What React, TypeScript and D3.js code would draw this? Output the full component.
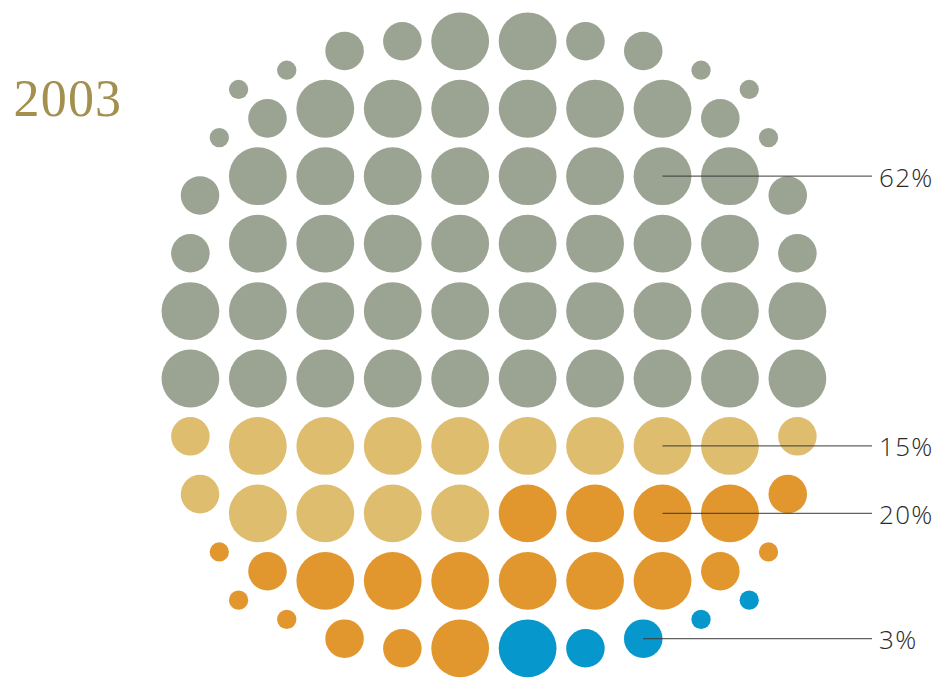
import React from "react";
import * as d3 from "d3";

// ---- data ----
const title = "2003";
const categories = ["Gray", "Yellow", "Orange", "Blue"];
const dotCounts = [60, 15, 20, 5];
const colors = ["#9ba392", "#dfbd6f", "#e1972e", "#0697cd"];
const labels = ["62%", "15%", "20%", "3%"];
// anchor dot (row, col) each label's leader line starts from
const labelAnchorRow = [2, 6, 7, 9];
const labelAnchorCol = [7, 7, 7, 7];

// dot pattern (top-left quadrant, mirrored): L = large, M = medium, S = small
const quadrantKind = ["SSMML", "SMLLL", "MLLLL", "MLLLL", "LLLLL"];
// shift toward the centre, in pattern units (cell = 7 units)
const quadrantShiftX = [
  [5, 3, 2, 1, 0],
  [3, 1, 0, 0, 0],
  [1, 0, 0, 0, 0],
  [0, 0, 0, 0, 0],
  [0, 0, 0, 0, 0],
];
const quadrantShiftY = [
  [5, 3, 1, 0, 0],
  [3, 1, 0, 0, 0],
  [2, 0, 0, 0, 0],
  [1, 0, 0, 0, 0],
  [0, 0, 0, 0, 0],
];
const kindRadius: Record<string, number> = { L: 3, M: 2, S: 1 };

const W = 945;
const H = 685;
const N = 10;

export default function App() {
  const x = d3.scaleLinear().domain([0, N - 1]).range([190.4, 797.4]);
  const y = d3.scaleLinear().domain([0, N - 1]).range([41.3, 648.3]);
  const unit = (x(1) - x(0)) / 7;

  const colorIdx: number[] = [];
  dotCounts.forEach((c, i) => {
    for (let k = 0; k < c; k++) colorIdx.push(i);
  });

  const dots: { r: number; c: number; cx: number; cy: number; rad: number; fill: string }[] = [];
  for (let r = 0; r < N; r++) {
    for (let c = 0; c < N; c++) {
      const qr = r < N / 2 ? r : N - 1 - r;
      const qc = c < N / 2 ? c : N - 1 - c;
      const sx = c < N / 2 ? 1 : -1;
      const sy = r < N / 2 ? 1 : -1;
      const kind = quadrantKind[qr][qc];
      const cx = x(c) + sx * quadrantShiftX[qr][qc] * unit;
      const cy = y(r) + sy * quadrantShiftY[qr][qc] * unit;
      const idx = r * N + c;
      dots.push({ r, c, cx, cy, rad: kindRadius[kind] * unit, fill: colors[colorIdx[idx]] });
    }
  }

  const lineEnd = 872;

  return (
    <div style={{ position: "absolute", left: 0, top: 0 }}>
      <svg width={W} height={H} viewBox={`0 0 ${W} ${H}`} style={{ display: "block", background: "#fff" }}>
        <text
          x={13.5}
          y={115.5}
          fontFamily="'Liberation Serif', 'DejaVu Serif', serif"
          fontSize={52}
          letterSpacing={1.2}
          fill="#a38f4e"
        >
          {title}
        </text>
        <g>
          {dots.map((d) => (
            <circle key={`${d.r}-${d.c}`} cx={d.cx} cy={d.cy} r={d.rad} fill={d.fill} />
          ))}
        </g>
        <g>
          {labels.map((lab, i) => {
            const a = dots.find((d) => d.r === labelAnchorRow[i] && d.c === labelAnchorCol[i])!;
            return (
              <g key={categories[i]}>
                <line
                  x1={a.cx}
                  x2={lineEnd}
                  y1={a.cy}
                  y2={a.cy}
                  stroke="#3a3a3a"
                  strokeOpacity={0.8}
                  strokeWidth={1.3}
                />
                <text
                  x={lineEnd + 7}
                  y={a.cy + 10.5}
                  fontFamily="'Open Sans', 'Noto Sans', sans-serif"
                  fontWeight={300}
                  fontSize={26}
                  letterSpacing={1.3}
                  fill="#2a2a2a"
                >
                  {lab}
                </text>
              </g>
            );
          })}
        </g>
      </svg>
    </div>
  );
}
